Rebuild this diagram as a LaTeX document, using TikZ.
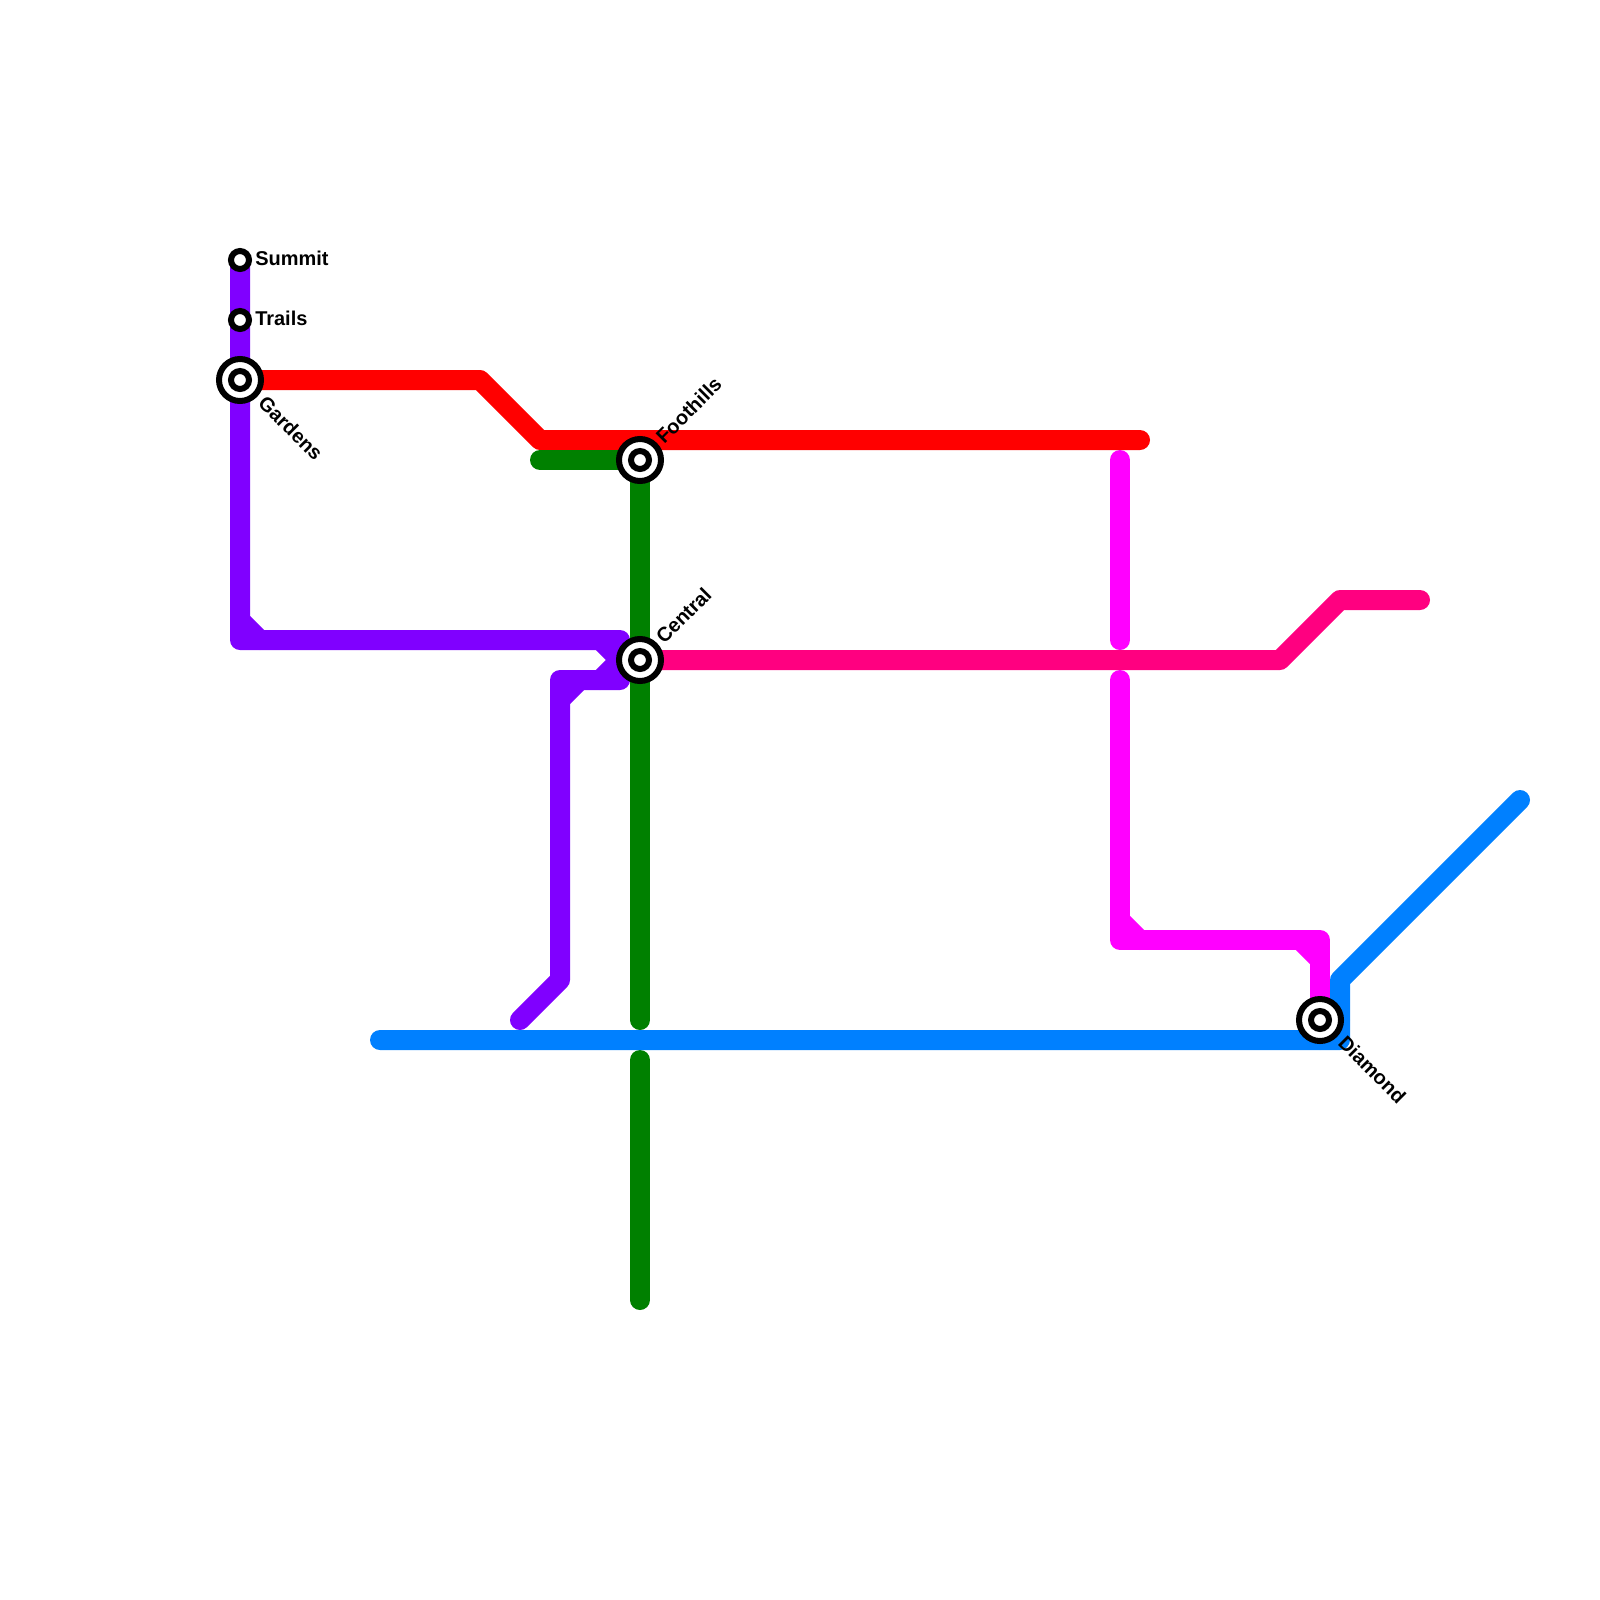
\documentclass[tikz,border=0pt]{standalone}
\usepackage{fontspec}
\setmainfont{Liberation Sans}
\begin{document}
\begin{tikzpicture}[x=0.5cm, y=-0.5cm,
    metro/.style={line width=0.5cm, line cap=round, line join=round},
    hub/.style={circle, draw=black, fill=white, line width=0.15cm, minimum size=1.05cm, inner sep=0pt, outer sep=0pt},
    stop/.style={circle, draw=black, fill=white, line width=0.15cm, minimum size=0.45cm, inner sep=0pt, outer sep=0pt},
    stationLabel/.style={inner sep=0pt, font=\bfseries\fontsize{14.2}{17}\selectfont}]

    \definecolor{purpleLine}{HTML}{8000FF}
    \definecolor{redLine}{HTML}{FF0000}
    \definecolor{greenLine}{HTML}{008000}
    \definecolor{pinkLine}{HTML}{FF0080}
    \definecolor{magentaLine}{HTML}{FF00FF}
    \definecolor{blueLine}{HTML}{0080FF}

    \useasboundingbox (0,0) rectangle (80,80);

    % Station positions
    \coordinate (summit) at (12,13);
    \coordinate (trails) at (12,16);
    \coordinate (gardens) at (12,19);
    \coordinate (foothills) at (32,23);
    \coordinate (central) at (32,33);
    \coordinate (diamond) at (66,51);

    % Purple line
    \draw[metro, purpleLine] (summit) -- (trails) -- (gardens) -- (12,32) -- (31,32) -- (31,34) -- (28,34) -- (28,49) -- (26,51);
    \draw[metro, purpleLine] (12,31) -- (13,32);
    \draw[metro, purpleLine] (30,32) -- (31,33) -- (30,34);
    \draw[metro, purpleLine] (28,35) -- (29,34);

    % Red line
    \draw[metro, redLine] (gardens) -- (24,19) -- (27,22) -- (57,22);

    % Green line
    \draw[metro, greenLine] (27,23) -- (foothills) -- (central) -- (32,51);
    \draw[metro, greenLine] (32,53) -- (32,65);

    % Pink line
    \draw[metro, pinkLine] (central) -- (64,33) -- (67,30) -- (71,30);

    % Magenta line
    \draw[metro, magentaLine] (56,23) -- (56,32);
    \draw[metro, magentaLine] (56,34) -- (56,47) -- (66,47) -- (diamond);
    \draw[metro, magentaLine] (56,46) -- (57,47);
    \draw[metro, magentaLine] (65,47) -- (66,48);

    % Blue line
    \draw[metro, blueLine] (19,52) -- (67,52) -- (67,49) -- (76,40);
    \draw[metro, blueLine] (66,52) -- (67,51);

    % Stations
    \foreach \station in {summit,trails}
        \node[stop] (\station Stop) at (\station) {};
    \foreach \station in {gardens,foothills,central,diamond}{
        \node[hub] (\station Hub) at (\station) {};
        \node[stop] (\station Stop) at (\station) {};
    }

    % Labels
    \node[stationLabel, anchor=west] (summitLabel) at (12.75,12.9) {Summit};
    \node[stationLabel, anchor=west] (trailsLabel) at (12.75,15.9) {Trails};
    \node[stationLabel, anchor=west, rotate=-45] (gardensLabel) at (13.1,19.95) {Gardens};
    \node[stationLabel, anchor=west, rotate=45] (foothillsLabel) at (32.95,22) {Foothills};
    \node[stationLabel, anchor=west, rotate=45] (centralLabel) at (32.95,32) {Central};
    \node[stationLabel, anchor=west, rotate=-45] (diamondLabel) at (67.1,51.95) {Diamond};

\end{tikzpicture}
\end{document}
